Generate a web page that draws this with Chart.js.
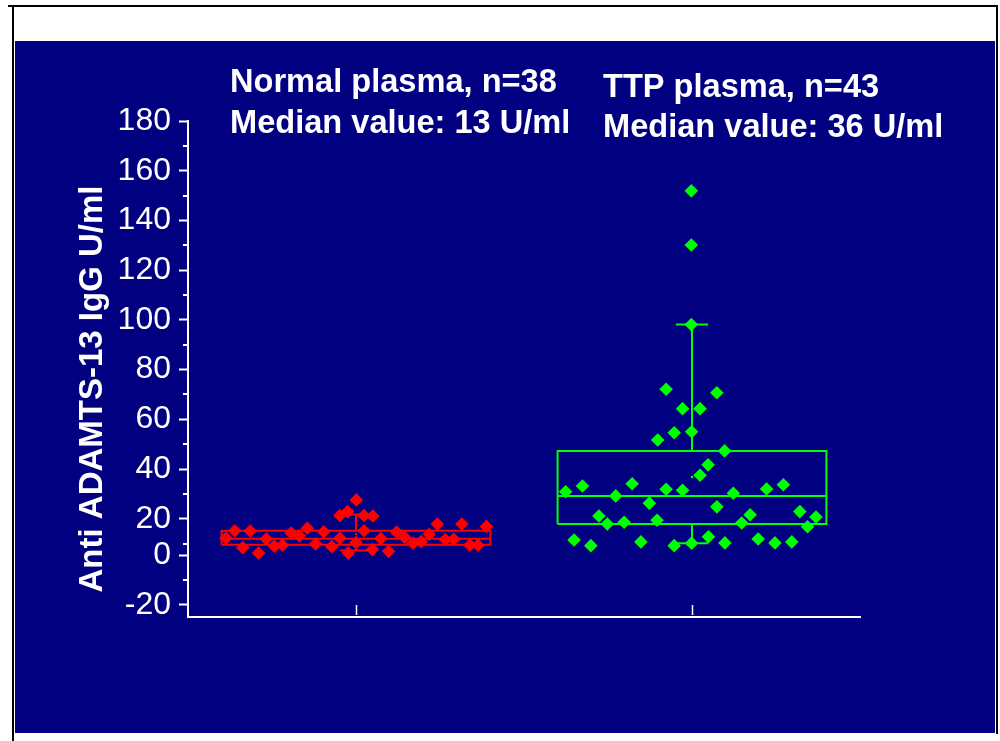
<!DOCTYPE html>
<html>
<head>
<meta charset="utf-8">
<script src="https://cdn.jsdelivr.net/npm/chart.js@4.4.1/dist/chart.umd.min.js"></script>
<style>
html,body{margin:0;padding:0;background:#fff;}
#wrap{position:relative;width:1000px;height:741px;}
</style>
</head>
<body>
<div id="wrap"><canvas id="c" width="1000" height="741"></canvas></div>
<script>
// ---- data ----
const groupNames = ['Normal plasma', 'TTP plasma'];
const groupCounts = [38, 43];
const groupMedianText = [13, 36];
const groupPositions = [1, 2];

const normalX = [0.613,0.639,0.663,0.685,0.710,0.733,0.757,0.781,0.807,0.831,0.855,0.880,0.904,0.928,0.952,0.952,0.975,0.977,1.001,1.000,1.024,1.050,1.024,1.049,1.074,1.097,1.121,1.145,1.170,1.194,1.218,1.242,1.266,1.291,1.315,1.339,1.363,1.388];
const normalY = [12.2,15.2,8.4,15.1,6.2,11.9,9.0,9.4,14.3,13.2,16.2,9.9,14.8,8.8,12.2,21.3,22.9,6.2,27.6,10.4,21.3,21.1,15.2,7.6,12.1,6.9,14.7,12.5,10.2,10.8,13.8,17.9,11.7,11.8,17.9,9.4,9.4,16.9];

const ttpX = [1.998,1.998,1.998,1.923,1.972,1.947,1.898,1.624,1.674,1.822,1.773,1.923,1.972,1.873,1.723,1.748,1.798,1.896,1.649,1.699,1.848,1.947,2.074,2.024,1.999,2.097,2.048,2.024,2.123,2.222,2.272,2.074,2.173,2.148,2.321,2.369,2.344,2.049,1.999,2.098,2.197,2.247,2.297];
const ttpY = [151.9,130.1,98.1,72.1,64.3,54.6,51.7,30.9,33.2,34.1,29.2,31.9,31.5,26.3,21.1,17.9,18.6,19.4,11.5,9.2,10.7,9.2,70.7,64.3,55.0,47.3,41.7,37.5,30.3,32.0,33.7,24.8,21.6,18.3,22.9,20.7,16.8,12.8,10.2,10.3,11.9,10.3,10.7];

const boxQ1 = [9.6, 17.9];
const boxMedian = [12.0, 29.2];
const boxQ3 = [15.2, 47.3];
const whiskerLow = [7.2, 10.2];
const whiskerHigh = [21.7, 98.1];
const groupMean = [13.9, 36.8];

const yTickValues = [180,160,140,120,100,80,60,40,20,5.2,-14.6];
const yTickLabels = ['180','160','140','120','100','80','60','40','20','0','-20'];
const yMinorTicks = [170,150,130,110,90,70,50,30,10,-4.7];

// ---- styling ----
const NAVY = '#000080';
const groupColors = ['#FF0000', '#00FF00'];
const BOX_HALF = 0.4;
const CAP_HALF = 0.048;
const FONT = '"Liberation Sans", Arial, sans-serif';

function zip(xs, ys){ return xs.map((x,i)=>({x:x, y:ys[i]})); }

const datasets = [];
datasets.push({label:'Normal', data: zip(normalX, normalY), pointStyle:'rectRot', pointRadius:6.8,
  backgroundColor: groupColors[0], borderWidth:0, showLine:false});
datasets.push({label:'TTP', data: zip(ttpX, ttpY), pointStyle:'rectRot', pointRadius:6.8,
  backgroundColor: groupColors[1], borderWidth:0, showLine:false});

function lineSet(pts, color){
  return {data: pts, showLine:true, borderColor: color, borderWidth:2, pointRadius:0, fill:false, tension:0};
}
groupPositions.forEach((c, g) => {
  const col = groupColors[g];
  datasets.push(lineSet([
    {x:c-BOX_HALF,y:boxQ1[g]},{x:c+BOX_HALF,y:boxQ1[g]},{x:c+BOX_HALF,y:boxQ3[g]},
    {x:c-BOX_HALF,y:boxQ3[g]},{x:c-BOX_HALF,y:boxQ1[g]}], col));
  datasets.push(lineSet([{x:c-BOX_HALF,y:boxMedian[g]},{x:c+BOX_HALF,y:boxMedian[g]}], col));
  datasets.push(lineSet([{x:c,y:boxQ3[g]},{x:c,y:whiskerHigh[g]}], col));
  datasets.push(lineSet([{x:c-CAP_HALF,y:whiskerHigh[g]},{x:c+CAP_HALF,y:whiskerHigh[g]}], col));
  datasets.push(lineSet([{x:c,y:boxQ1[g]},{x:c,y:whiskerLow[g]}], col));
  datasets.push(lineSet([{x:c-CAP_HALF,y:whiskerLow[g]},{x:c+CAP_HALF,y:whiskerLow[g]}], col));
  datasets.push({data:[{x:c, y:groupMean[g]}], showLine:false, pointStyle:'rect', pointRadius:1.6,
    backgroundColor: col, borderWidth:0});
});

const bgPlugin = {
  id: 'bgFrame',
  beforeDraw(chart){
    const ctx = chart.ctx;
    ctx.save();
    ctx.fillStyle = '#ffffff';
    ctx.fillRect(0,0,chart.width,chart.height);
    ctx.fillStyle = '#000000';
    ctx.fillRect(8,5,990,2);
    ctx.fillRect(12,5,2,736);
    ctx.fillRect(996,5,2,729);
    ctx.fillStyle = NAVY;
    ctx.fillRect(15,41,980,692);
    ctx.restore();
  }
};

const decoPlugin = {
  id: 'deco',
  afterDraw(chart){
    const ctx = chart.ctx, area = chart.chartArea;
    const ys = chart.scales.y, xs = chart.scales.x;
    ctx.save();
    ctx.strokeStyle = '#ffffff';
    ctx.lineWidth = 2;
    yMinorTicks.forEach(v => {
      const py = Math.round(ys.getPixelForValue(v));
      ctx.beginPath(); ctx.moveTo(area.left-5, py); ctx.lineTo(area.left, py); ctx.stroke();
    });
    ctx.lineWidth = 1.5;
    groupPositions.forEach(v => {
      const px = Math.round(xs.getPixelForValue(v)) + 0.5;
      ctx.beginPath(); ctx.moveTo(px, area.bottom-2); ctx.lineTo(px, area.bottom-12); ctx.stroke();
    });
    // annotation text
    ctx.fillStyle = '#ffffff';
    ctx.font = 'bold 32.6px ' + FONT;
    ctx.textAlign = 'left';
    ctx.textBaseline = 'alphabetic';
    ctx.fillText(groupNames[0] + ', n=' + groupCounts[0], 230, 92);
    ctx.fillText('Median value: ' + groupMedianText[0] + ' U/ml', 230, 133);
    ctx.fillText(groupNames[1] + ', n=' + groupCounts[1], 603, 97);
    ctx.fillText('Median value: ' + groupMedianText[1] + ' U/ml', 603, 137);
    // y-axis title
    ctx.font = 'bold 33px ' + FONT;
    ctx.translate(102, 389);
    ctx.rotate(-Math.PI/2);
    ctx.textAlign = 'center';
    ctx.fillText('Anti ADAMTS-13 IgG U/ml', 0, 0);
    ctx.restore();
  }
};

new Chart(document.getElementById('c'), {
  type: 'scatter',
  data: { datasets: datasets },
  options: {
    responsive: false,
    animation: false,
    devicePixelRatio: 1,
    layout: { padding: { left: 0, right: 140, top: 121, bottom: 124 } },
    plugins: { legend: { display:false }, tooltip: { enabled:false }, title: { display:false } },
    scales: {
      x: {
        type: 'linear', min: 0.5, max: 2.5,
        afterBuildTicks(s){ s.ticks = groupPositions.map(v => ({value: v})); },
        afterFit(s){ s.height = 0; },
        ticks: { display:false },
        grid: { display:false },
        border: { display:true, color:'#ffffff', width:2 }
      },
      y: {
        type: 'linear', min: -19.5, max: 180,
        afterBuildTicks(s){ s.ticks = yTickValues.map(v => ({value: v})); },
        afterFit(s){ s.width = 188; },
        ticks: {
          color:'#ffffff', autoSkip:false, padding:8,
          font: { family: FONT, size: 32 },
          callback: (v, i) => yTickLabels[i]
        },
        grid: { drawOnChartArea:false, drawTicks:true, tickLength:9, tickColor:'#ffffff', tickWidth:2 },
        border: { display:true, color:'#ffffff', width:2 }
      }
    }
  },
  plugins: [bgPlugin, decoPlugin]
});
</script>
</body>
</html>
